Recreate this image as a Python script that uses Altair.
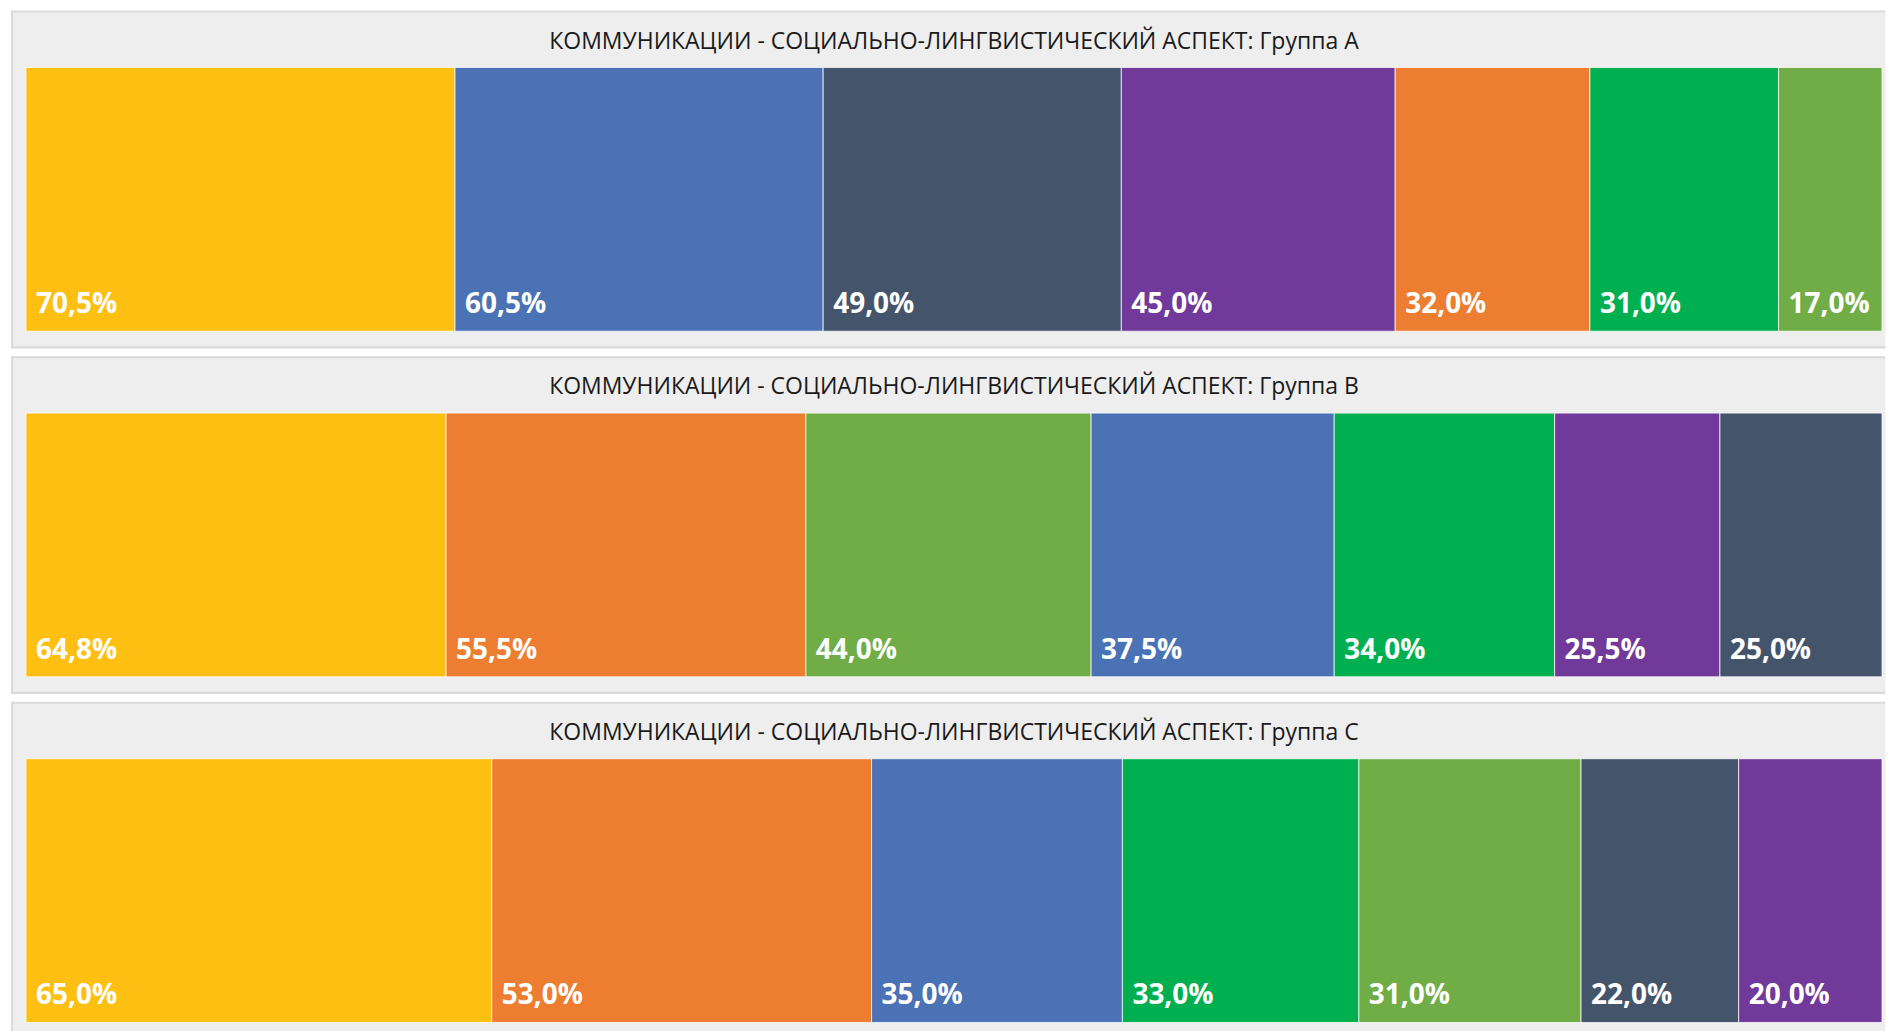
import altair as alt
import pandas as pd

# Palette (Excel-like theme colours)
palette_keys = ["gold", "blue", "slate", "purple", "orange", "green", "lime"]
palette_hex = ["#FDC012", "#4A72B5", "#44546A", "#70399A", "#ED7D31", "#00B050", "#70AD47"]

title_base = "КОММУНИКАЦИИ - СОЦИАЛЬНО-ЛИНГВИСТИЧЕСКИЙ АСПЕКТ: "
groups = ["Группа А", "Группа В", "Группа С"]

values_A = [70.5, 60.5, 49.0, 45.0, 32.0, 31.0, 17.0]
colors_A = ["gold", "blue", "slate", "purple", "orange", "green", "lime"]

values_B = [64.8, 55.5, 44.0, 37.5, 34.0, 25.5, 25.0]
colors_B = ["gold", "orange", "lime", "blue", "green", "purple", "slate"]

values_C = [65.0, 53.0, 35.0, 33.0, 31.0, 22.0, 20.0]
colors_C = ["gold", "orange", "blue", "green", "lime", "slate", "purple"]

panel_heights = [338, 338, 334]
PANEL_W = 1876
X_RANGE = [15, 1873]
BAR_TOP, BAR_BOTTOM = 57, 321
BORDER = "#d9d9d9"


def panel(values, colors, group, h):
    df = pd.DataFrame({"value": values, "key": colors, "rank": list(range(len(values)))})
    base = alt.Chart(df).transform_joinaggregate(
        total="sum(value)"
    ).transform_window(
        cum="sum(value)", sort=[alt.SortField("rank", order="ascending")], frame=[None, 0]
    ).transform_calculate(
        start="(datum.cum - datum.value) / datum.total",
        end="datum.cum / datum.total",
        label="replace(format(datum.value, '.1f'), '.', ',') + '%'",
    )
    xs = alt.Scale(domain=[0, 1], range=X_RANGE)
    bars = base.mark_bar(stroke="white", strokeWidth=1, strokeOpacity=0.75).encode(
        x=alt.X("start:Q", scale=xs, axis=None),
        x2="end:Q",
        y=alt.value(BAR_TOP),
        y2=alt.value(BAR_BOTTOM),
        color=alt.Color("key:N", scale=alt.Scale(domain=palette_keys, range=palette_hex), legend=None),
    )
    labels = base.mark_text(
        align="left", baseline="alphabetic", dx=10, font="Open Sans",
        fontWeight="bold", fontSize=28, color="white",
    ).encode(
        x=alt.X("start:Q", scale=xs, axis=None),
        y=alt.value(BAR_BOTTOM - 18),
        text="label:N",
    )
    tdf = pd.DataFrame({"t": [title_base + group]})
    title = alt.Chart(tdf).mark_text(
        align="center", baseline="middle", font="Open Sans", fontSize=23, color="#1a1a1a",
    ).encode(
        x=alt.value((X_RANGE[0] + X_RANGE[1]) / 2),
        y=alt.value(31),
        text="t:N",
    )
    # panel frame (left, top, bottom edges; right edge lies off-screen in the original)
    frame_df = pd.DataFrame({"k": [0]})
    left = alt.Chart(frame_df).mark_rule(color=BORDER, strokeWidth=2).encode(
        x=alt.value(1), y=alt.value(0), y2=alt.value(h))
    top = alt.Chart(frame_df).mark_rule(color=BORDER, strokeWidth=2).encode(
        x=alt.value(0), x2=alt.value(PANEL_W), y=alt.value(1))
    bottom = alt.Chart(frame_df).mark_rule(color=BORDER, strokeWidth=2).encode(
        x=alt.value(0), x2=alt.value(PANEL_W), y=alt.value(h - 1))
    return alt.layer(left, top, bottom, bars, labels, title).properties(width=PANEL_W, height=h)


chart = alt.vconcat(
    panel(values_A, colors_A, groups[0], panel_heights[0]),
    panel(values_B, colors_B, groups[1], panel_heights[1]),
    panel(values_C, colors_C, groups[2], panel_heights[2]),
    spacing=6,
).properties(
    padding={"left": 2, "top": 1, "right": 0, "bottom": 0},
    background="white",
).configure_view(
    fill="#eeeeee", strokeOpacity=0,
)

chart.save("out.html", embed_options={"renderer": "svg", "actions": False})
